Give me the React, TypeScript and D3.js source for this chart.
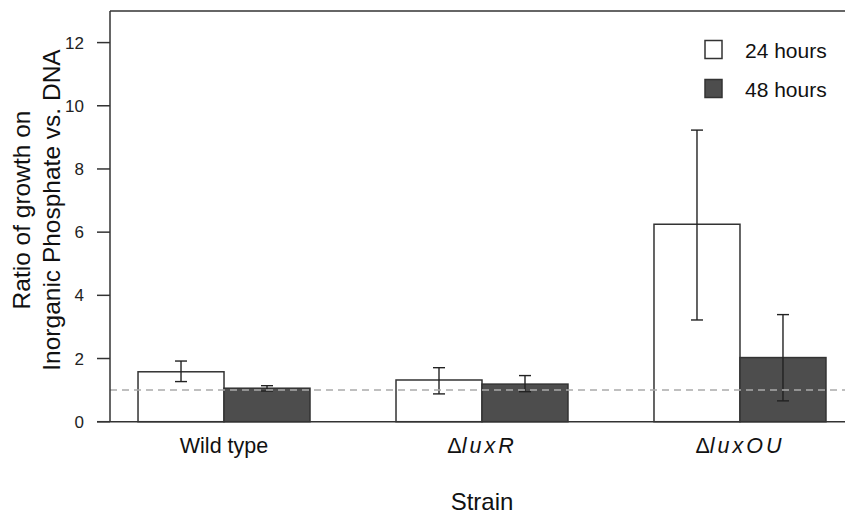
import React from "react";
import * as d3 from "d3";

const strains = ["Wild type", "luxR", "luxOU"];
const strainPrefix = ["", "Δ", "Δ"];
const mean24 = [1.58, 1.32, 6.25];
const lo24 = [1.27, 0.88, 3.22];
const hi24 = [1.92, 1.71, 9.23];
const mean48 = [1.06, 1.19, 2.03];
const lo48 = [0.97, 0.95, 0.66];
const hi48 = [1.14, 1.46, 3.39];
const yTicks = [0, 2, 4, 6, 8, 10, 12];
const seriesNames = ["24 hours", "48 hours"];
const refLine = 1;

const W = 845;
const H = 515;
const FONT = "'Liberation Sans', Arial, sans-serif";
const AX = "#333";
const DARK = "#4d4d4d";

export default function App() {
  const x = d3.scaleLinear().domain([0.68, 9.32]).range([110.5, 853.5]);
  const y = d3.scaleLinear().domain([0, 13]).range([421.7, 11]);
  const series = [
    { mean: mean24, lo: lo24, hi: hi24, fill: "#ffffff" },
    { mean: mean48, lo: lo48, hi: hi48, fill: DARK },
  ];
  const bars: any[] = [];
  strains.forEach((s, i) => {
    series.forEach((se, j) => {
      const left = 1 + 3 * i + j;
      bars.push({ i, j, x0: x(left), x1: x(left + 1), xc: x(left + 0.5), ...se, v: se.mean[i], l: se.lo[i], h: se.hi[i] });
    });
  });
  return (
    <svg width={W} height={H} style={{ position: "absolute", left: 0, top: 0, background: "#fff" }} fontFamily={FONT}>
      <rect width={W} height={H} fill="#fff" />
      {bars.map((b, k) => (
        <rect key={"b" + k} x={b.x0} y={y(b.v)} width={b.x1 - b.x0} height={y(0) - y(b.v)} fill={b.fill} stroke={AX} strokeWidth={1.5} />
      ))}
      {bars.map((b, k) => (
        <g key={"e" + k} stroke="#222" strokeWidth={1.4}>
          <line x1={b.xc} x2={b.xc} y1={y(b.l)} y2={y(b.h)} />
          <line x1={b.xc - 6} x2={b.xc + 6} y1={y(b.l)} y2={y(b.l)} />
          <line x1={b.xc - 6} x2={b.xc + 6} y1={y(b.h)} y2={y(b.h)} />
        </g>
      ))}
      <line x1={110} x2={W} y1={y(refLine)} y2={y(refLine)} stroke="#aaa" strokeWidth={1.5} strokeDasharray="7,5" />
      <line x1={110} x2={W} y1={11} y2={11} stroke={AX} strokeWidth={1.5} />
      <line x1={110} x2={110} y1={11} y2={y(0)} stroke={AX} strokeWidth={1.5} />
      <line x1={97} x2={W} y1={y(0)} y2={y(0)} stroke={AX} strokeWidth={1.5} />
      {yTicks.map((t) => (
        <g key={"t" + t}>
          <line x1={97} x2={110} y1={y(t)} y2={y(t)} stroke={AX} strokeWidth={1.5} />
          <text x={84} y={y(t)} dy="0.36em" textAnchor="end" fontSize={17} fill="#222">{t}</text>
        </g>
      ))}
      {strains.map((s, i) => (
        <text key={"x" + i} x={x(2 + 3 * i)} y={453} textAnchor="middle" fontSize={21.5} fill="#111">
          {strainPrefix[i]}
          {i > 0 ? <tspan fontStyle="italic" letterSpacing={3}>{s}</tspan> : s}
        </text>
      ))}
      <text x={x(5)} y={510} textAnchor="middle" fontSize={24} fill="#111">Strain</text>
      <g transform={`translate(30, 210) rotate(-90)`}>
        <text x={0} y={0} textAnchor="middle" fontSize={24.5} fill="#111">Ratio of growth on</text>
        <text x={0} y={30} textAnchor="middle" fontSize={24.5} fill="#111">Inorganic Phosphate vs. DNA</text>
      </g>
      {seriesNames.map((n, k) => (
        <g key={"l" + k}>
          <rect x={705} y={40.5 + k * 39} width={17} height={18} fill={k === 0 ? "#fff" : DARK} stroke={AX} strokeWidth={1.5} />
          <text x={745} y={58 + k * 39} fontSize={21} fill="#111">{n}</text>
        </g>
      ))}
    </svg>
  );
}
